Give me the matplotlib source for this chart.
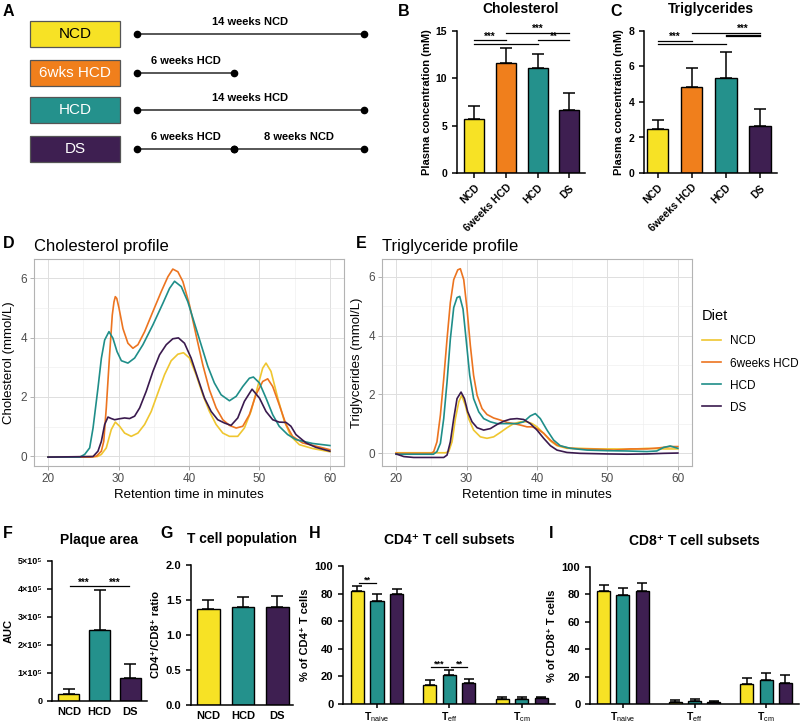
import numpy as np
import matplotlib
matplotlib.use('Agg')
import matplotlib.pyplot as plt
import matplotlib.transforms as mtransforms
from matplotlib.patches import Rectangle

plt.rcParams['font.family'] = ['Liberation Sans', 'DejaVu Sans']
plt.rcParams['mathtext.fontset'] = 'custom'
plt.rcParams['mathtext.rm'] = 'Liberation Sans'
plt.rcParams['mathtext.bf'] = 'Liberation Sans:bold'
plt.rcParams['mathtext.it'] = 'Liberation Sans:italic'

# ---------------- data ----------------
col_ncd, col_6w, col_hcd, col_ds = '#F7E225', '#F07F1C', '#24918C', '#3E1F51'
line_cols = ['#EFC630', '#EC7420', '#1F8E89', '#3A1A4E']

# A: study design
diets_A = ['NCD', '6wks HCD', 'HCD', 'DS']
diet_colors_A = [col_ncd, col_6w, col_hcd, col_ds]
diet_text_A = ['black', 'white', 'white', 'white']
phases_A = [[(0, 14, '14 weeks NCD')],
            [(0, 6, '6 weeks HCD')],
            [(0, 14, '14 weeks HCD')],
            [(0, 6, '6 weeks HCD'), (6, 14, '8 weeks NCD')]]

# B, C: plasma lipids
groups4 = ['NCD', '6weeks HCD', 'HCD', 'DS']
colors4 = [col_ncd, col_6w, col_hcd, col_ds]
chol_mean = [5.7, 11.6, 11.1, 6.7]
chol_err = [1.4, 1.6, 1.5, 1.7]
chol_sig = [(0, 1, 14.0, '***', 14.0), (0, 2, 13.67, '', 0), (1, 3, 14.82, '***', 14.82), (2, 3, 14.0, '**', 14.0)]
tg_mean = [2.5, 4.85, 5.35, 2.65]
tg_err = [0.47, 1.05, 1.45, 0.95]
tg_sig = [(0, 1, 7.44, '***', 7.44), (0, 2, 7.27, '', 0), (1, 3, 7.89, '', 0),
          (2, 3, 7.78, '***', 7.89), (2, 3, 7.70, '', 0)]

# D, E: FPLC profiles
diet_names = ['NCD', '6weeks HCD', 'HCD', 'DS']
chol_x = [
    [20, 24, 27, 27.56, 28.26, 28.97, 29.54, 30.15, 30.86, 31.8, 32.75, 33.7, 34.64, 35.58, 36.53, 37.47,
     38.42, 39.22, 40.07, 41.0, 41.96, 42.9, 43.85, 44.8, 45.74, 46.92, 47.86, 48.8, 49.75, 50.46, 50.93,
     51.64, 52.6, 53.53, 54.47, 55.66, 57.54, 60],
    [20, 26, 26.85, 27.56, 27.9, 28.26, 28.73, 29.11, 29.35, 29.54, 29.75, 30.06, 30.63, 31.33, 32.04,
     32.75, 33.7, 34.88, 36.06, 37.0, 37.7, 38.42, 39.13, 40.07, 41.0, 41.96, 42.9, 43.85, 44.8, 45.74,
     46.7, 47.63, 48.57, 49.5, 50.46, 51.17, 51.88, 52.8, 53.77, 54.7, 56.1, 58, 60],
    [20, 24.5, 25.19, 25.9, 26.38, 27.08, 27.56, 28.03, 28.64, 29.2, 29.78, 30.4, 31.33, 32.28, 33.46,
     34.88, 36.3, 37.24, 37.95, 38.9, 39.83, 40.78, 41.72, 42.67, 43.6, 44.56, 45.74, 46.7, 47.63, 48.57,
     49.14, 50.0, 50.93, 51.88, 52.8, 54.0, 55.18, 57.54, 60],
    [20, 26.38, 27.08, 27.56, 28.03, 28.5, 28.97, 29.45, 30.06, 30.86, 31.57, 32.28, 33.0, 33.93, 34.88,
     35.82, 36.77, 37.7, 38.5, 39.36, 40.3, 41.25, 42.2, 43.14, 44.08, 45.03, 45.97, 46.92, 47.86, 48.95,
     50.0, 50.93, 51.88, 52.8, 53.77, 54.47, 55.18, 56.6, 58, 60],
]
chol_y = [
    [-0.02, -0.02, -0.01, 0.06, 0.28, 0.9, 1.15, 1.01, 0.78, 0.67, 0.78, 1.07, 1.51, 2.13, 2.75, 3.22,
     3.44, 3.49, 3.31, 2.75, 2.07, 1.51, 1.07, 0.78, 0.67, 0.67, 0.95, 1.51, 2.35, 2.97, 3.14,
     2.86, 1.96, 1.18, 0.67, 0.39, 0.26, 0.15],
    [-0.03, -0.03, 0.0, 0.17, 0.5, 1.63, 3.42, 4.76, 5.2, 5.38, 5.32, 5.0, 4.3, 3.81, 3.64,
     3.76, 4.2, 4.88, 5.55, 6.05, 6.31, 6.22, 5.89, 5.1, 4.09, 3.08, 2.24, 1.63, 1.23, 1.04,
     0.95, 1.01, 1.4, 2.07, 2.52, 2.61, 2.35, 1.74, 1.07, 0.67, 0.45, 0.34, 0.22],
    [-0.03, -0.03, 0.06, 0.28, 0.95, 2.3, 3.3, 3.92, 4.2, 3.98, 3.53, 3.22, 3.14, 3.31, 3.76,
     4.43, 5.16, 5.66, 5.9, 5.72, 5.21, 4.48, 3.76, 3.03, 2.47, 2.07, 1.87, 2.02, 2.35, 2.63,
     2.67, 2.47, 1.96, 1.4, 1.01, 0.73, 0.56, 0.43, 0.36],
    [-0.03, -0.01, 0.17, 0.5, 1.07, 1.32, 1.27, 1.23, 1.26, 1.29, 1.27, 1.35, 1.63, 2.19, 2.86,
     3.42, 3.76, 3.96, 3.99, 3.81, 3.31, 2.63, 1.96, 1.51, 1.23, 1.12, 1.04, 1.29, 1.85, 2.26,
     1.96, 1.51, 1.23, 1.15, 1.14, 1.01, 0.73, 0.45, 0.3, 0.17],
]
tg_x = [
    [20, 27.0, 27.47, 27.94, 28.42, 28.9, 29.31, 29.83, 30.3, 31.0, 31.96, 32.9, 33.85, 34.8, 35.74,
     36.7, 37.64, 38.58, 39.3, 40.0, 40.95, 41.9, 42.84, 44.25, 46.1, 48.5, 50.9, 53.2, 55.6, 57.97, 60],
    [20, 25.0, 25.34, 25.8, 26.29, 26.76, 27.23, 27.7, 28.18, 28.75, 29.12, 29.6, 30.07, 30.54, 31.0,
     31.5, 32.2, 32.9, 33.85, 34.8, 35.74, 36.7, 37.64, 38.58, 39.3, 40.0, 40.95, 41.9, 42.84, 44.25,
     46.1, 48.5, 50.9, 53.2, 55.6, 57.5, 58.9, 60],
    [20, 25.3, 25.8, 26.29, 26.76, 27.23, 27.7, 28.18, 28.65, 29.03, 29.5, 29.98, 30.45, 31.0, 31.73,
     32.43, 33.38, 34.33, 35.27, 36.2, 37.16, 38.1, 39.05, 39.76, 40.47, 41.42, 42.36, 43.3, 44.73,
     47.1, 49.93, 52.77, 55.6, 57.0, 57.97, 58.9, 60],
    [20, 21.1, 22.5, 26.76, 27.23, 27.7, 28.18, 28.65, 29.22, 29.7, 30.17, 30.78, 31.5, 32.43, 33.38,
     34.33, 35.27, 36.2, 37.16, 38.1, 39.05, 40.0, 40.95, 41.9, 42.84, 44.25, 46.1, 49.93, 52.77,
     55.6, 57.97, 60],
]
tg_y = [
    [0.02, 0.02, 0.06, 0.39, 1.18, 1.75, 1.97, 1.63, 1.18, 0.79, 0.56, 0.51, 0.56, 0.71, 0.87,
     1.01, 1.07, 1.07, 1.01, 0.9, 0.68, 0.42, 0.26, 0.17, 0.17, 0.15, 0.15, 0.14, 0.17, 0.15, 0.15],
    [0.0, 0.0, 0.06, 0.39, 1.3, 2.53, 3.88, 5.12, 5.9, 6.23, 6.27, 5.9, 4.9, 3.66, 2.65,
     1.97, 1.52, 1.32, 1.2, 1.13, 1.05, 1.01, 0.96, 0.9, 0.9, 0.84, 0.68, 0.45, 0.28, 0.19,
     0.15, 0.14, 0.11, 0.15, 0.15, 0.19, 0.23, 0.23],
    [-0.03, -0.03, 0.06, 0.34, 1.18, 2.42, 3.88, 4.95, 5.29, 5.33, 4.9, 3.77, 2.65, 1.86, 1.41,
     1.18, 1.07, 1.01, 1.01, 1.01, 1.01, 1.07, 1.27, 1.35, 1.18, 0.79, 0.45, 0.26, 0.17,
     0.11, 0.09, 0.08, 0.06, 0.08, 0.2, 0.25, 0.17],
    [-0.02, -0.11, -0.14, -0.14, -0.06, 0.39, 1.18, 1.86, 2.08, 1.86, 1.41, 1.07, 0.87, 0.79, 0.84,
     0.98, 1.09, 1.16, 1.18, 1.15, 1.01, 0.79, 0.51, 0.26, 0.11, 0.03, 0.0, -0.02, -0.03,
     -0.02, 0.0, 0.01],
]

# F, G
groups3 = ['NCD', 'HCD', 'DS']
colors3 = [col_ncd, col_hcd, col_ds]
plaque_mean = [0.25e5, 2.55e5, 0.82e5]
plaque_err = [0.18e5, 1.43e5, 0.5e5]
plaque_sig = [(0, 1, 4.1e5, '***', 4.1e5), (1, 2, 4.1e5, '***', 4.1e5)]
ratio_mean = [1.37, 1.395, 1.395]
ratio_err = [0.13, 0.145, 0.165]

# H, I
subsets = [r'T$_{\mathrm{naive}}$', r'T$_{\mathrm{eff}}$', r'T$_{\mathrm{cm}}$']
cd4_mean = [[82, 14, 3.5], [75, 21, 3.5], [80, 15, 4.3]]
cd4_err = [[3.2, 3.3, 1.3], [4.5, 4.0, 1.4], [3.0, 3.0, 1.0]]
cd8_mean = [[82.6, 1.7, 14.9], [79.3, 1.9, 17.3], [82.4, 1.4, 15.2]]
cd8_err = [[4.1, 1.4, 3.9], [5.7, 1.5, 5.6], [5.6, 1.0, 5.8]]
# (group, bar i, bar j, y, label)
cd4_sig = [(0, 0, 1, 87.5, '**'), (1, 0, 1, 26.8, '***'), (1, 1, 2, 26.8, '**')]

# ---------------- figure ----------------
W, H = 800, 725
fig = plt.figure(figsize=(8, 7.25), dpi=100)


def px_axes(x0, y0, x1, y1):
    return fig.add_axes([x0 / W, 1 - y1 / H, (x1 - x0) / W, (y1 - y0) / H])


def letter(x, y, s):
    fig.text(x / W, 1 - y / H, s, fontsize=11.5, fontweight='bold', va='center', ha='left')


def prism_axes(ax):
    for s in ['top', 'right']:
        ax.spines[s].set_visible(False)
    for s in ['left', 'bottom']:
        ax.spines[s].set_linewidth(1.1)
    ax.tick_params(width=1.1, length=3.5, labelsize=7.5)
    for t in ax.get_yticklabels() + ax.get_xticklabels():
        t.set_fontweight('bold')


def sig_lines(ax, sigs, shrink=0.0, fs=7):
    for i, j, y, lab, ly in sigs:
        ax.plot([i + shrink, j - shrink], [y, y], color='black', lw=0.9, clip_on=False)
        if lab:
            ax.annotate(lab, ((i + j) / 2, ly), xytext=(0, 0.5), textcoords='offset points',
                        ha='center', va='baseline', fontsize=fs, fontweight='bold')


def bars(ax, means, errs, colors, width):
    x = np.arange(len(means))
    ax.bar(x, means, width=width, color=colors, edgecolor='black', linewidth=1.0, zorder=2)
    ax.errorbar(x, means, yerr=[np.zeros(len(errs)), errs], fmt='none', ecolor='black',
                elinewidth=1.1, capsize=4.5, capthick=1.1, zorder=1)
    return x


# ---- A ----
axA = px_axes(0, 0, 400, 190)
axA.axis('off')
scale = (364 - 137) / 14
axA.set_xlim(-137 / scale, (400 - 137) / scale)
axA.set_ylim(190, 0)
rows = [34, 73, 110, 149]
bt = mtransforms.blended_transform_factory(axA.transAxes, axA.transData)
for r, name, c, tc, ph in zip(rows, diets_A, diet_colors_A, diet_text_A, phases_A):
    axA.add_patch(Rectangle((0.075, r - 13), 0.225, 26, transform=bt, facecolor=c,
                            edgecolor='#555555', lw=0.9))
    axA.text(0.1875, r, name, transform=bt, ha='center', va='center', color=tc, fontsize=11)
    for s, e, lab in ph:
        axA.plot([s, e], [r, r], color='#3a3a3a', lw=1.2, marker='o', ms=4.5, mfc='black', mec='black')
        axA.text((s + e) / 2, r - 7, lab, ha='center', va='bottom', fontsize=8, fontweight='bold')
letter(3, 11, 'A')

# ---- B ----
axB = px_axes(457, 31, 585, 173)
x = bars(axB, chol_mean, chol_err, colors4, 0.63)
axB.set_xlim(-0.55, 3.5)
axB.set_ylim(0, 15)
axB.set_yticks([0, 5, 10, 15])
axB.set_xticks(x)
axB.set_xticklabels(groups4, rotation=45, ha='right', rotation_mode='anchor')
prism_axes(axB)
sig_lines(axB, chol_sig)
axB.set_ylabel('Plasma concentration (mM)', fontsize=8, fontweight='bold', labelpad=3)
axB.set_title('Cholesterol', fontsize=10, fontweight='bold', pad=13)
letter(398, 12, 'B')

# ---- C ----
axC = px_axes(644, 31, 777, 173)
x = bars(axC, tg_mean, tg_err, colors4, 0.63)
axC.set_xlim(-0.4, 3.5)
axC.set_ylim(0, 8)
axC.set_yticks([0, 2, 4, 6, 8])
axC.set_xticks(x)
axC.set_xticklabels(groups4, rotation=45, ha='right', rotation_mode='anchor')
prism_axes(axC)
sig_lines(axC, tg_sig)
axC.set_ylabel('Plasma concentration (mM)', fontsize=8, fontweight='bold', labelpad=3)
axC.set_title('Triglycerides', fontsize=10, fontweight='bold', pad=13)
letter(610, 12, 'C')


# ---- D, E ----
def light_theme(ax, ylim):
    for s in ax.spines.values():
        s.set_color('#B3B3B3')
        s.set_linewidth(0.8)
    ax.set_xlim(18, 62)
    ax.set_ylim(*ylim)
    ax.set_xticks([20, 30, 40, 50, 60])
    ax.set_xticks([25, 35, 45, 55], minor=True)
    ax.set_yticks([0, 2, 4, 6])
    ax.set_yticks([1, 3, 5], minor=True)
    ax.grid(which='major', color='#DEDEDE', lw=0.7)
    ax.grid(which='minor', color='#EDEDED', lw=0.4)
    ax.set_axisbelow(True)
    ax.tick_params(which='major', color='#B3B3B3', length=3, width=0.7, labelcolor='#4D4D4D',
                   labelsize=8.5, pad=2)
    ax.tick_params(which='minor', length=0)
    ax.set_xlabel('Retention time in minutes', fontsize=9.5, labelpad=3)


axD = px_axes(34, 259, 344, 466)
for xs, ys, c in zip(chol_x, chol_y, line_cols):
    axD.plot(xs, ys, color=c, lw=1.2, solid_joinstyle='round')
light_theme(axD, (-0.33, 6.65))
axD.set_ylabel('Cholesterol (mmol/L)', fontsize=9.5)
axD.set_title('Cholesterol profile', fontsize=12, loc='left', pad=6)
letter(3, 243, 'D')

axE = px_axes(382, 259, 692, 466)
handles = []
for xs, ys, c, n in zip(tg_x, tg_y, line_cols, diet_names):
    h, = axE.plot(xs, ys, color=c, lw=1.2, solid_joinstyle='round', label=n)
    handles.append(h)
light_theme(axE, (-0.43, 6.6))
axE.set_ylabel('Triglycerides (mmol/L)', fontsize=9.5)
axE.set_title('Triglyceride profile', fontsize=12, loc='left', pad=6)
leg = axE.legend(handles=handles, title='Diet', loc='upper left', bbox_to_anchor=(702 / W, 1 - 309 / H),
                 bbox_transform=fig.transFigure, frameon=False, fontsize=8.5, title_fontsize=10.5,
                 handlelength=1.6, labelspacing=0.85, borderaxespad=0, borderpad=0, alignment='left')
leg._legend_box.sep = 9
letter(356, 243, 'E')

# ---- F ----
axF = px_axes(52, 561, 147, 701)
x = bars(axF, plaque_mean, plaque_err, colors3, 0.68)
axF.set_xlim(-0.55, 2.55)
axF.set_ylim(0, 5e5)
axF.set_yticks([0, 1e5, 2e5, 3e5, 4e5, 5e5])
axF.set_yticklabels(['0', '1×10⁵', '2×10⁵', '3×10⁵', '4×10⁵', '5×10⁵'])
axF.set_xticks(x)
axF.set_xticklabels(groups3)
prism_axes(axF)
axF.tick_params(axis='y', labelsize=6.5)
axF.tick_params(axis='x', length=0, labelsize=8, pad=4)
sig_lines(axF, plaque_sig, shrink=0.03)
axF.set_ylabel('AUC', fontsize=8, fontweight='bold', labelpad=3)
axF.set_title('Plaque area', fontsize=10, fontweight='bold', pad=12)
letter(3, 534, 'F')

# ---- G ----
axG = px_axes(191, 565, 293, 705)
x = bars(axG, ratio_mean, ratio_err, colors3, 0.65)
axG.set_xlim(-0.5, 2.45)
axG.set_ylim(0, 2.0)
axG.set_yticks([0, 0.5, 1.0, 1.5, 2.0])
axG.set_xticks(x)
axG.set_xticklabels(groups3)
prism_axes(axG)
axG.tick_params(axis='y', labelsize=8)
axG.tick_params(axis='x', length=0, labelsize=8, pad=4)
axG.set_ylabel('CD4⁺/CD8⁺ ratio', fontsize=8, fontweight='bold', labelpad=3)
axG.set_title('T cell population', fontsize=10, fontweight='bold', pad=16)
letter(160, 534, 'G')


# ---- H, I ----
def grouped(ax, means, errs, sigs=None):
    gx = np.arange(len(subsets))
    offs = [-0.27, 0, 0.27]
    for k in range(3):
        ax.bar(gx + offs[k], means[k], width=0.18, color=colors3[k], edgecolor='black', linewidth=1.0, zorder=2)
        ax.errorbar(gx + offs[k], means[k], yerr=[np.zeros(3), errs[k]], fmt='none', ecolor='black',
                    elinewidth=1.1, capsize=3.5, capthick=1.1, zorder=1)
    if sigs:
        for g, i, j, y, lab in sigs:
            a, b = g + offs[i] + 0.02, g + offs[j] - 0.02
            ax.plot([a, b], [y, y], color='black', lw=0.9)
            ax.annotate(lab, ((a + b) / 2, y), xytext=(0, 0.5), textcoords='offset points',
                        ha='center', va='baseline', fontsize=6.5, fontweight='bold')
    ax.set_xticks(gx)
    ax.set_xticklabels(subsets)
    ax.set_xlim(-0.47, 2.46)
    ax.set_ylim(0, 100)
    ax.set_yticks([0, 20, 40, 60, 80, 100])
    prism_axes(ax)
    ax.tick_params(axis='y', labelsize=8)
    ax.tick_params(axis='x', labelsize=7.5, pad=1.5, length=3)


axH = px_axes(343, 566, 555, 704)
grouped(axH, cd4_mean, cd4_err, cd4_sig)
axH.set_ylabel('% of CD4⁺ T cells', fontsize=8, fontweight='bold', labelpad=3)
axH.set_title('CD4⁺ T cell subsets', fontsize=10, fontweight='bold', pad=16)
letter(309, 534, 'H')

axI = px_axes(590, 567, 799, 704)
grouped(axI, cd8_mean, cd8_err)
axI.set_xlim(-0.46, 2.46)
axI.set_ylabel('% of CD8⁺ T cells', fontsize=8, fontweight='bold', labelpad=3)
axI.set_title('CD8⁺ T cell subsets', fontsize=10, fontweight='bold', pad=16)
letter(549, 533, 'I')

fig.savefig('out.png', dpi=100)
